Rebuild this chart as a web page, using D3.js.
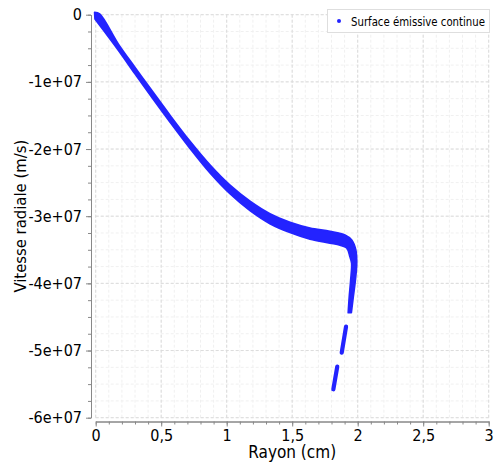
<!DOCTYPE html>
<html><head><meta charset="utf-8">
<script src="https://cdn.jsdelivr.net/npm/d3@7"></script>
<style>
body{margin:0;background:#fff}
svg{display:block}
text{font-family:"DejaVu Sans Condensed","DejaVu Sans",sans-serif;font-stretch:condensed;fill:#000}
</style></head>
<body><svg id="c" width="495" height="468"></svg>
<script>
// ---- data ----
const xTicks = [0, 0.5, 1, 1.5, 2, 2.5, 3];
const xTickLabels = ["0", "0,5", "1", "1,5", "2", "2,5", "3"];
const yTicks = [0, -1e7, -2e7, -3e7, -4e7, -5e7, -6e7];
const yTickLabels = ["0", "-1e+07", "-2e+07", "-3e+07", "-4e+07", "-5e+07", "-6e+07"];
const seriesName = "Surface émissive continue";
// outer (upper/right) edge of the point cloud: radius (cm), velocity (m/s)
const upperR = [-0.008, 0.03, 0.173, 0.300, 0.427, 0.568, 0.720, 0.873, 1.025, 1.178, 1.330, 1.483, 1.636, 1.788, 1.903, 1.954, 1.985, 1.992, 1.982, 1.966, 1.951];
const upperV = [0.035e7, 0.01e7, -0.439e7, -0.786e7, -1.126e7, -1.500e7, -1.886e7, -2.240e7, -2.539e7, -2.777e7, -2.963e7, -3.091e7, -3.176e7, -3.225e7, -3.280e7, -3.355e7, -3.503e7, -3.701e7, -3.950e7, -4.199e7, -4.437e7];
// inner (lower/left) edge of the point cloud
const lowerR = [-0.005, 0.173, 0.300, 0.427, 0.568, 0.720, 0.873, 1.025, 1.178, 1.330, 1.483, 1.636, 1.788, 1.865, 1.916, 1.941, 1.954, 1.947, 1.936, 1.928];
const lowerV = [-0.064e7, -0.529e7, -0.880e7, -1.226e7, -1.600e7, -1.990e7, -2.356e7, -2.665e7, -2.917e7, -3.111e7, -3.243e7, -3.342e7, -3.399e7, -3.430e7, -3.473e7, -3.603e7, -3.701e7, -3.950e7, -4.199e7, -4.437e7];
// isolated segments below the main cloud
const segR = [[1.911, 1.878], [1.844, 1.814]];
const segV = [[-4.645e7, -5.032e7], [-5.24e7, -5.577e7]];

// ---- chart ----
const svg = d3.select("#c");
const x = d3.scaleLinear().domain([0, 3]).range([95.7, 488.7]);
const y = d3.scaleLinear().domain([-6e7, 0]).range([417.7, 14.7]);
const blue = "#2323ff";

// grid
const g = svg.append("g");
const xMinor = d3.range(0, 3.0001, 0.1);
const yMinor = d3.range(0, -6.0001e7, -2.5e6);
g.selectAll(".vm").data(xMinor).join("line")
  .attr("x1", d => x(d)).attr("x2", d => x(d)).attr("y1", y(0)).attr("y2", y(-6e7))
  .attr("stroke", "#f0f0f0").attr("stroke-dasharray", "3,2");
g.selectAll(".hm").data(yMinor).join("line")
  .attr("y1", d => y(d)).attr("y2", d => y(d)).attr("x1", x(0)).attr("x2", x(3))
  .attr("stroke", "#f0f0f0").attr("stroke-dasharray", "3,2");
g.selectAll(".vM").data(xTicks).join("line")
  .attr("x1", d => x(d)).attr("x2", d => x(d)).attr("y1", y(0)).attr("y2", y(-6e7))
  .attr("stroke", "#dcdcdc").attr("stroke-dasharray", "3,2");
g.selectAll(".hM").data(yTicks).join("line")
  .attr("y1", d => y(d)).attr("y2", d => y(d)).attr("x1", x(0)).attr("x2", x(3))
  .attr("stroke", "#dcdcdc").attr("stroke-dasharray", "3,2");

// axes
const axisColor = "#888";
const yAxis = d3.axisLeft(y).tickValues(yTicks).tickFormat((d, i) => yTickLabels[i]).tickSize(5).tickSizeOuter(0).tickPadding(4);
const yMinorAxis = d3.axisLeft(y).tickValues(yMinor).tickFormat("").tickSize(3).tickSizeOuter(0);
const xAxis = d3.axisBottom(x).tickValues(xTicks).tickFormat((d, i) => xTickLabels[i]).tickSize(5).tickSizeOuter(0).tickPadding(3);
const xMinorAxis = d3.axisBottom(x).tickValues(xMinor).tickFormat("").tickSize(3).tickSizeOuter(0);

function style(sel) {
  sel.selectAll("path,line").attr("stroke", axisColor);
  sel.selectAll("text").attr("font-size", 16).attr("fill", "#000")
    .style("font-family", '"DejaVu Sans Condensed","DejaVu Sans",sans-serif');
}
svg.append("g").attr("transform", "translate(91,0)").call(yMinorAxis).call(style);
svg.append("g").attr("transform", "translate(91,0)").call(yAxis).call(style);
svg.append("g").attr("transform", "translate(0,421.5)").call(xMinorAxis).call(style);
svg.append("g").attr("transform", "translate(0,421.5)").call(xAxis).call(style);

// axis titles
svg.append("text").attr("x", (x(0) + x(3)) / 2).attr("y", 458).attr("text-anchor", "middle")
  .attr("font-size", 17).text("Rayon (cm)");
svg.append("text").attr("transform", `translate(25.5,${(y(0) + y(-6e7)) / 2}) rotate(-90)`)
  .attr("text-anchor", "middle").attr("font-size", 16.5).text("Vitesse radiale (m/s)");

// data band (smooth outline of the point cloud)
const edge = d3.line().x(d => x(d[0])).y(d => y(d[1])).curve(d3.curveCatmullRom.alpha(0.5));
const upPts = upperR.map((r, i) => [r, upperV[i]]);
const loPts = lowerR.map((r, i) => [r, lowerV[i]]).reverse();
const dBand = edge(upPts) + "L" + edge(loPts).slice(1) + "Z";
svg.append("path").attr("d", dBand).attr("fill", blue).attr("stroke", blue)
  .attr("stroke-width", 1.8).attr("stroke-linejoin", "round");
const seg = d3.line().x(d => x(d[0])).y(d => y(d[1]));
segR.forEach((rs, k) => {
  svg.append("path").attr("d", seg(rs.map((r, i) => [r, segV[k][i]])))
    .attr("fill", "none").attr("stroke", blue).attr("stroke-width", 4.2).attr("stroke-linecap", "round");
});

// legend
const lg = svg.append("g");
lg.append("rect").attr("x", 327.5).attr("y", 9.5).attr("width", 162).attr("height", 23)
  .attr("fill", "#fff").attr("stroke", "#dedede");
lg.append("circle").attr("cx", 339).attr("cy", 21).attr("r", 2).attr("fill", blue);
lg.append("text").attr("x", 351).attr("y", 25.5).attr("font-size", 11.8)
  .attr("textLength", 134).attr("lengthAdjust", "spacingAndGlyphs").text(seriesName);
</script>
</body></html>
